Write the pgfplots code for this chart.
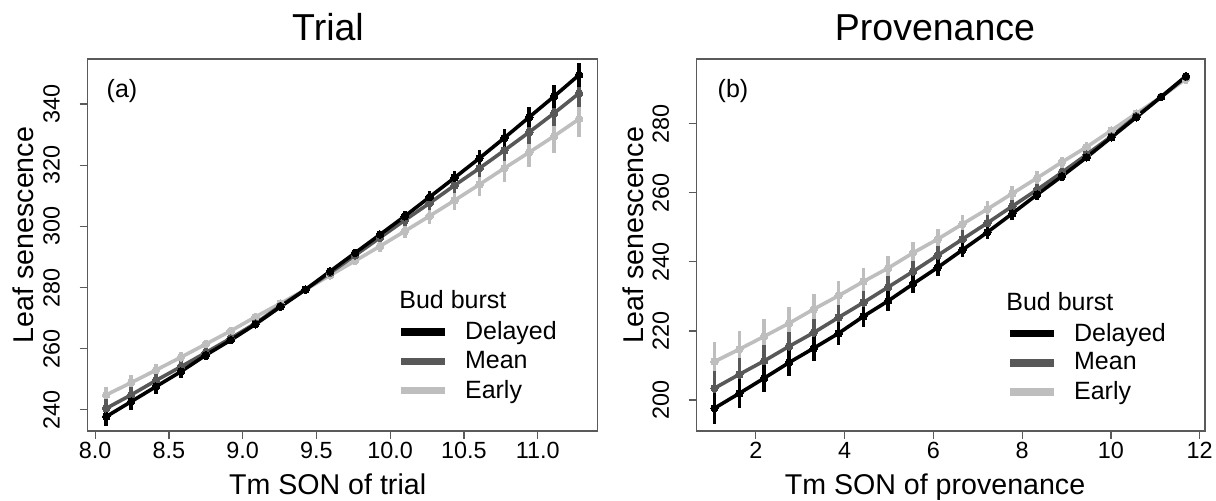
\documentclass[border=0pt]{standalone}
\usepackage{graphicx}
\usepackage{pgfplots}
\pgfplotsset{compat=1.18}
\usepackage{fontspec}
\setmainfont{Liberation Sans}

\definecolor{cDel}{RGB}{0,0,0}
\definecolor{cMean}{RGB}{88,88,88}
\definecolor{cEarly}{RGB}{190,190,190}
\definecolor{cFrame}{RGB}{90,90,90}

\pgfplotsset{
  rpanel/.style={
    scale only axis,
    anchor=south west,
    height=186pt,
    axis line style={draw=cFrame, line width=0.6pt},
    tick style={draw=cFrame, line width=0.6pt},
    tick align=outside,
    tick pos=left,
    major tick length=4pt,
    /pgf/number format/assume math mode=true,
    ticklabel style={font=\fontsize{11.7}{13}\selectfont},
    yticklabel={\rotatebox{90}{\pgfmathprintnumber{\tick}}},
    yticklabel style={anchor=east, inner sep=0pt, xshift=-9.6pt},
    xticklabel style={anchor=base, inner sep=0pt, yshift=-10pt},
    legend cell align=left,
    legend style={draw=none, fill=none, anchor=north west, inner sep=0pt,
      font=\fontsize{12.5}{14}\selectfont,
      nodes={inner sep=0pt}},
    legend image code/.code={
      \draw[line width=3.8pt] (0pt,0pt) -- (22pt,0pt);
      \path[draw=none, fill=none] (0pt,-7.3pt) rectangle (32.1pt,7.3pt);
    },
  },
  ser/.style={
    color=#1, line width=1.8pt,
    mark=*, mark size=1.9pt, mark options={fill=#1, draw=#1, line width=0pt},
    error bars/y dir=both, error bars/y explicit,
    error bars/error mark=none,
    error bars/error bar style={line width=1.8pt, color=#1},
  },
}

\begin{document}
\begin{tikzpicture}
\useasboundingbox (0pt,0pt) rectangle (608pt,250.5pt);

% ---------------- (a) Trial ----------------
\begin{axis}[rpanel,
  at={(43.75pt,35pt)}, width=255.1pt,
  xmin=7.948, xmax=11.407, ymin=233.1, ymax=354.7,
  xtick={8,8.5,...,11}, ytick={240,260,...,340},
  xticklabel style={/pgf/number format/.cd, fixed, fixed zerofill, precision=1},
  legend style={at={(0.606,0.306)}},
]
\addlegendimage{cDel}\addlegendentry{Delayed}
\addlegendimage{cMean}\addlegendentry{Mean}
\addlegendimage{cEarly}\addlegendentry{Early}

% Early
\addplot[ser=cEarly, forget plot] coordinates {
 (8.075,244.9) +- (0,2.7) (8.244,248.9) +- (0,2.4) (8.412,253.0) +- (0,2.1)
 (8.581,257.2) +- (0,1.8) (8.750,261.5) +- (0,1.5) (8.919,265.8) +- (0,1.2)
 (9.087,270.4) +- (0,0.9) (9.256,274.8) +- (0,0.6) (9.425,279.3) +- (0,0.3)
 (9.593,284.0) +- (0,0.8) (9.762,288.7) +- (0,1.3) (9.931,293.5) +- (0,1.8)
 (10.099,298.4) +- (0,2.3) (10.268,303.4) +- (0,2.8) (10.437,308.5) +- (0,3.3)
 (10.606,313.7) +- (0,3.8) (10.774,319.0) +- (0,4.4) (10.943,324.2) +- (0,4.9)
 (11.112,329.5) +- (0,5.4) (11.281,335.1) +- (0,5.9)
};
% Mean
\addplot[ser=cMean, forget plot] coordinates {
 (8.075,240.5) +- (0,2.9) (8.244,244.9) +- (0,2.5) (8.412,249.6) +- (0,2.2)
 (8.581,254.1) +- (0,1.9) (8.750,258.7) +- (0,1.6) (8.919,263.4) +- (0,1.3)
 (9.087,268.3) +- (0,0.9) (9.256,274.0) +- (0,0.6) (9.425,279.3) +- (0,0.3)
 (9.593,284.8) +- (0,0.7) (9.762,290.5) +- (0,1.1) (9.931,296.3) +- (0,1.5)
 (10.099,302.0) +- (0,1.8) (10.268,307.6) +- (0,2.2) (10.437,313.4) +- (0,2.6)
 (10.606,319.0) +- (0,3.0) (10.774,324.8) +- (0,3.4) (10.943,330.8) +- (0,3.9)
 (11.112,337.0) +- (0,4.2) (11.281,343.5) +- (0,4.6)
};
% Delayed
\addplot[ser=cDel, forget plot] coordinates {
 (8.075,237.8) +- (0,3.0) (8.244,242.7) +- (0,2.7) (8.412,247.6) +- (0,2.3)
 (8.581,252.5) +- (0,2.0) (8.750,257.9) +- (0,1.6) (8.919,262.8) +- (0,1.3)
 (9.087,268.0) +- (0,1.0) (9.256,273.7) +- (0,0.6) (9.425,279.3) +- (0,0.3)
 (9.593,285.3) +- (0,0.6) (9.762,291.3) +- (0,1.0) (9.931,297.3) +- (0,1.3)
 (10.099,303.3) +- (0,1.6) (10.268,309.6) +- (0,2.0) (10.437,315.9) +- (0,2.3)
 (10.606,322.3) +- (0,2.7) (10.774,328.9) +- (0,3.0) (10.943,335.7) +- (0,3.3)
 (11.112,342.5) +- (0,3.7) (11.281,349.5) +- (0,4.0)
};
\end{axis}

% ---------------- (b) Provenance ----------------
\begin{axis}[rpanel,
  at={(348.35pt,35pt)}, width=254.15pt,
  xmin=0.667, xmax=12.12, ymin=191.0, ymax=298.8,
  xtick={2,4,...,12}, ytick={200,220,...,280},
  legend style={at={(0.608,0.302)}},
]
\addlegendimage{cDel}\addlegendentry{Delayed}
\addlegendimage{cMean}\addlegendentry{Mean}
\addlegendimage{cEarly}\addlegendentry{Early}

% Early
\addplot[ser=cEarly, forget plot] coordinates {
 (1.068,211.1) +- (0,5.6) (1.627,214.7) +- (0,5.3) (2.186,218.4) +- (0,5.0)
 (2.745,222.2) +- (0,4.8) (3.304,226.3) +- (0,4.5) (3.863,230.2) +- (0,4.2)
 (4.422,234.3) +- (0,3.9) (4.981,238.2) +- (0,3.6) (5.540,242.6) +- (0,3.3)
 (6.099,246.6) +- (0,3.0) (6.658,251.0) +- (0,2.7) (7.217,255.3) +- (0,2.4)
 (7.776,259.8) +- (0,2.1) (8.335,264.3) +- (0,1.9) (8.894,268.9) +- (0,1.6)
 (9.453,273.3) +- (0,1.3) (10.012,278.1) +- (0,1.0) (10.571,283.0) +- (0,0.7)
 (11.130,287.8) +- (0,0.5) (11.689,293.0) +- (0,1.5)
};
% Mean
\addplot[ser=cMean, forget plot] coordinates {
 (1.068,203.4) +- (0,5.0) (1.627,207.4) +- (0,4.8) (2.186,211.3) +- (0,4.5)
 (2.745,215.5) +- (0,4.3) (3.304,219.5) +- (0,4.0) (3.863,223.9) +- (0,3.7)
 (4.422,228.2) +- (0,3.5) (4.981,232.7) +- (0,3.2) (5.540,237.2) +- (0,3.0)
 (6.099,241.9) +- (0,2.7) (6.658,246.6) +- (0,2.5) (7.217,251.3) +- (0,2.2)
 (7.776,256.1) +- (0,1.9) (8.335,260.9) +- (0,1.7) (8.894,265.9) +- (0,1.4)
 (9.453,271.1) +- (0,1.2) (10.012,276.4) +- (0,0.9) (10.571,282.2) +- (0,0.7)
 (11.130,287.8) +- (0,0.4) (11.689,293.6) +- (0,1.0)
};
% Delayed
\addplot[ser=cDel, forget plot] coordinates {
 (1.068,197.6) +- (0,4.5) (1.627,201.9) +- (0,4.3) (2.186,206.3) +- (0,4.1)
 (2.745,210.8) +- (0,3.8) (3.304,215.0) +- (0,3.6) (3.863,219.3) +- (0,3.4)
 (4.422,224.2) +- (0,3.2) (4.981,228.7) +- (0,2.9) (5.540,233.6) +- (0,2.7)
 (6.099,238.4) +- (0,2.5) (6.658,243.5) +- (0,2.2) (7.217,248.6) +- (0,2.0)
 (7.776,254.0) +- (0,1.8) (8.335,259.5) +- (0,1.5) (8.894,264.8) +- (0,1.3)
 (9.453,270.3) +- (0,1.1) (10.012,276.1) +- (0,0.9) (10.571,281.9) +- (0,0.6)
 (11.130,287.8) +- (0,0.4) (11.689,293.8) +- (0,1.0)
};
\end{axis}

% ---------------- titles, labels, legend titles ----------------
\node[anchor=base, font=\fontsize{18.75}{22}\selectfont, inner sep=0pt] at (164pt,230.15pt) {Trial};
\node[anchor=base, font=\fontsize{18.75}{22}\selectfont, inner sep=0pt] at (467.5pt,230.15pt) {Provenance};
\node[anchor=base, font=\fontsize{14.3}{16}\selectfont, inner sep=0pt] at (163.8pt,3pt) {Tm SON of trial};
\node[anchor=base, font=\fontsize{14.3}{16}\selectfont, inner sep=0pt] at (467.5pt,3pt) {Tm SON of provenance};
\node[anchor=base, rotate=90, font=\fontsize{14.3}{16}\selectfont, inner sep=0pt] at (16.6pt,133pt) {Leaf senescence};
\node[anchor=base, rotate=90, font=\fontsize{14.3}{16}\selectfont, inner sep=0pt] at (321.7pt,133pt) {Leaf senescence};
\node[anchor=base, font=\fontsize{12.5}{14}\selectfont, inner sep=0pt] at (61pt,201.5pt) {(a)};
\node[anchor=base, font=\fontsize{12.5}{14}\selectfont, inner sep=0pt] at (366.5pt,201.5pt) {(b)};
\node[anchor=west, font=\fontsize{12.5}{14}\selectfont, inner sep=0pt] at (199.5pt,100.5pt) {Bud burst};
\node[anchor=west, font=\fontsize{12.5}{14}\selectfont, inner sep=0pt] at (503pt,99.5pt) {Bud burst};
\end{tikzpicture}
\end{document}
